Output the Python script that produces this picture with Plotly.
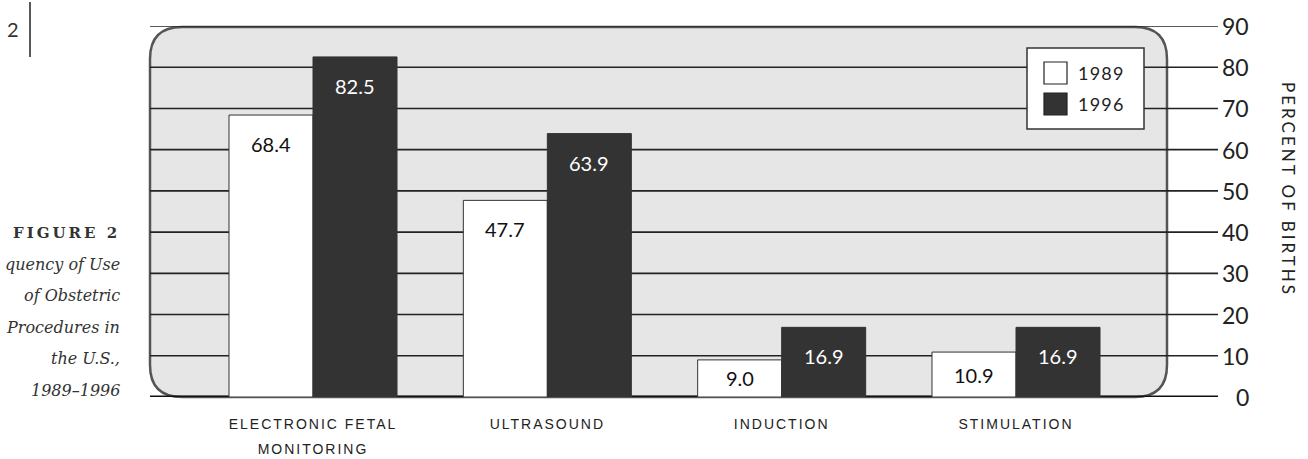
import plotly.graph_objects as go

# ---------------- data ----------------
categories = ["ELECTRONIC FETAL<br>MONITORING", "ULTRASOUND", "INDUCTION", "STIMULATION"]
series_names = ["1989", "1996"]
values_1989 = [68.4, 47.7, 9.0, 10.9]
values_1996 = [82.5, 63.9, 16.9, 16.9]
y_ticks = [0, 10, 20, 30, 40, 50, 60, 70, 80, 90]
y_title = "PERCENT OF BIRTHS"
page_number = "2"
caption_title = "FIGURE 2"
caption_lines = ["quency of Use", "of Obstetric", "Procedures in", "the U.S.,", "1989–1996"]

# ---------------- layout constants ----------------
W, H = 1308, 459
ML, MR, MT, MB = 40, 90, 26, 62
PW, PH = W - ML - MR, H - MT - MB
XR = [-1.165, 3.862]
YR = [0, 90]
BARGAP = 0.283
COL_LIGHT, COL_DARK = "#ffffff", "#333333"
TXT = "#222222"
NUM_FONT = "Lato"


def pxx(px):
    return (px - ML) / PW


def pxy(py):
    return (H - MB - py) / PH


def spaced(text, px, size=None):
    """Apply letter spacing (styling only) line by line."""
    extra = f";font-size:{size}px" if size else ""
    return "<br>".join(f"<span style='letter-spacing:{px}px{extra}'>{part}</span>"
                       for part in text.split("<br>"))


ppu_y = PH / (YR[1] - YR[0])
ppu_x = PW / (XR[1] - XR[0])
bar_px = (1 - BARGAP) / 2 * ppu_x

fig = go.Figure()
for name, vals, col in [(series_names[0], values_1989, COL_LIGHT), (series_names[1], values_1996, COL_DARK)]:
    fig.add_trace(go.Bar(
        x=categories, y=vals, name=name, showlegend=False,
        marker=dict(color=col, line=dict(color="#333333", width=1)),
    ))

shapes = []
# rounded grey panel
x0, x1 = pxx(150), pxx(1167)
y0, y1 = pxy(397), pxy(27)
rx, ry = 32 / PW, 32 / PH
path = (f"M {x0+rx},{y1} L {x1-rx},{y1} Q {x1},{y1} {x1},{y1-ry} "
        f"L {x1},{y0+ry} Q {x1},{y0} {x1-rx},{y0} L {x0+rx},{y0} "
        f"Q {x0},{y0} {x0},{y0+ry} L {x0},{y1-ry} Q {x0},{y1} {x0+rx},{y1} Z")
shapes.append(dict(type="path", path=path, xref="paper", yref="paper",
                   fillcolor="#e6e6e6", line=dict(color="#555555", width=2.5), layer="below"))
# grid lines
for t in y_ticks:
    shapes.append(dict(type="line", xref="paper", yref="y",
                       x0=x0, x1=1, y0=t, y1=t,
                       line=dict(color="#111111" if t == 0 else "#222222", width=3 if t == 0 else 1.6),
                       layer="below"))
# page marker line
shapes.append(dict(type="line", xref="paper", yref="paper",
                   x0=pxx(30), x1=pxx(30), y0=pxy(2), y1=pxy(57),
                   line=dict(color="#222222", width=1.5)))
# legend box
shapes.append(dict(type="rect", xref="paper", yref="paper",
                   x0=pxx(1027), x1=pxx(1144), y0=pxy(129), y1=pxy(48),
                   fillcolor="white", line=dict(color="#333333", width=1.5)))
for i, col in enumerate([COL_LIGHT, COL_DARK]):
    top = 62 + i * 31
    shapes.append(dict(type="rect", xref="paper", yref="paper",
                       x0=pxx(1044), x1=pxx(1067), y0=pxy(top + 22), y1=pxy(top),
                       fillcolor=col, line=dict(color="#222222", width=1.2)))

ann = []
# legend text
for i, name in enumerate(series_names):
    ann.append(dict(xref="paper", yref="paper", x=pxx(1076), y=pxy(73 + i * 31),
                    xanchor="left", yanchor="middle", text=spaced(name, 1.2), showarrow=False,
                    font=dict(family=NUM_FONT, size=18, color=TXT)))
# bar value labels
for sign, vals, col in [(-1, values_1989, "#111111"), (1, values_1996, "#ffffff")]:
    for c, v in zip(categories, vals):
        ann.append(dict(x=c, y=v, xref="x", yref="y", text=f"{v:.1f}", showarrow=False,
                        xshift=sign * bar_px / 2, yshift=-min(29, v * ppu_y / 2),
                        xanchor="center", yanchor="middle",
                        font=dict(family=NUM_FONT, size=20, color=col)))
# right tick labels
for t in y_ticks:
    ann.append(dict(xref="paper", yref="y", x=1, y=t, xshift=33, xanchor="right",
                    yanchor="middle", text=str(t), showarrow=False,
                    font=dict(family=NUM_FONT, size=23, color=TXT)))
# axis title
ann.append(dict(xref="paper", yref="paper", x=pxx(1289), y=pxy(189), text=spaced(y_title, 3),
                textangle=90, showarrow=False, xanchor="center", yanchor="middle",
                font=dict(family=NUM_FONT, size=17, color="#222222")))
# page number
ann.append(dict(xref="paper", yref="paper", x=pxx(5), y=pxy(29), text=page_number,
                xanchor="left", yanchor="middle", showarrow=False,
                font=dict(family=NUM_FONT, size=20, color="#333333")))
# caption
ann.append(dict(xref="paper", yref="paper", x=pxx(122), y=pxy(233), text=spaced(caption_title, 3),
                xanchor="right", yanchor="middle", showarrow=False,
                font=dict(family="DejaVu Serif", size=15, color="#333333", weight="bold")))
for i, line in enumerate(caption_lines):
    ann.append(dict(xref="paper", yref="paper", x=pxx(122), y=pxy(264 + i * 31.5), text=line,
                    xanchor="right", yanchor="middle", showarrow=False,
                    font=dict(family="DejaVu Serif", size=16, color="#333333", style="italic")))

fig.update_layout(
    width=W, height=H,
    margin=dict(l=ML, r=MR, t=MT, b=MB, pad=0),
    paper_bgcolor="white", plot_bgcolor="rgba(0,0,0,0)",
    barmode="group", bargap=BARGAP, bargroupgap=0,
    shapes=shapes, annotations=ann, showlegend=False,
    xaxis=dict(type="category", categoryorder="array", categoryarray=categories,
               tickmode="array", tickvals=categories,
               ticktext=[spaced(c, 2, 14) for c in categories],
               range=XR, showgrid=False, zeroline=False, showline=False, ticks="",
               ticklabelstandoff=12, automargin=False,
               tickfont=dict(family="Liberation Sans", size=19, color=TXT)),
    yaxis=dict(range=YR, showgrid=False, zeroline=False, showline=False,
               showticklabels=False, ticks="", automargin=False),
)

fig.write_html("out.html", config={"displayModeBar": False},
               post_script="document.body.style.margin='0';document.body.style.overflow='hidden';")
